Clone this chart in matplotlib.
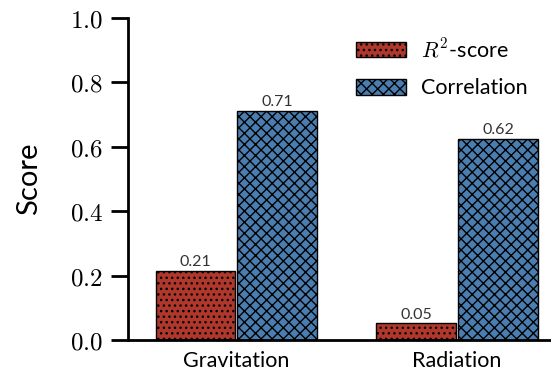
import matplotlib
matplotlib.use("Agg")
import matplotlib.pyplot as plt
import numpy as np

plt.rcParams['mathtext.fontset'] = 'cm'
plt.rcParams['font.family'] = ['Lato', 'DejaVu Sans']
plt.rcParams['hatch.linewidth'] = 1.0

categories = ["Gravitation", "Radiation"]
r2_scores = [0.215, 0.053]
correlations = [0.712, 0.625]
r2_labels = ["0.21", "0.05"]
corr_labels = ["0.71", "0.62"]
yticks = [0.0, 0.2, 0.4, 0.6, 0.8, 1.0]

fig = plt.figure(figsize=(5.51, 3.74), dpi=100)
ax = fig.add_axes([128 / 551, 34 / 374, 1 - 128 / 551, 322 / 374])

x = np.arange(len(categories))
width = 0.36
bars1 = ax.bar(x - width / 2 - 0.005, r2_scores, width, color="#b0372b", edgecolor="black",
               hatch="...", linewidth=1.0, label=r"$R^2$-score")
bars2 = ax.bar(x + width / 2 + 0.005, correlations, width, color="#4a7eb0", edgecolor="black",
               hatch="xxx", linewidth=1.0, label="Correlation")
ax.bar_label(bars1, labels=r2_labels, padding=1, fontsize=11.5, color="#333333")
ax.bar_label(bars2, labels=corr_labels, padding=1, fontsize=11.5, color="#333333")

ax.set_xlim(-0.49, 1.425)
ax.set_ylim(0, 1.0)
ax.set_xticks(x)
ax.set_xticklabels(categories, fontsize=15.5)
ax.set_yticks(yticks)
ax.set_yticklabels([f"${t:.1f}$" for t in yticks], fontsize=18)
ax.set_ylabel("Score", fontsize=21, labelpad=20)

ax.spines["top"].set_visible(False)
ax.spines["right"].set_visible(False)
ax.spines["left"].set_linewidth(2)
ax.spines["bottom"].set_linewidth(2)
ax.tick_params(axis="y", length=12, width=2, direction="out", pad=6)
ax.tick_params(axis="x", length=0, pad=8)

ax.legend(loc="upper right", bbox_to_anchor=(0.99, 1.0), frameon=False, fontsize=15.5,
          handlelength=2.3, handleheight=0.75, labelspacing=0.8, handletextpad=0.7)

fig.savefig("out.png", dpi=100)
